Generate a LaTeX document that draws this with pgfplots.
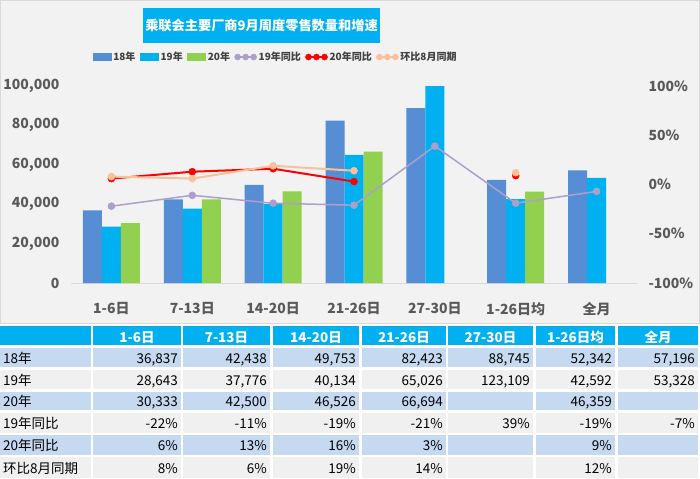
\documentclass[border=0pt]{standalone}
\usepackage{fontspec}
\setmainfont{Noto Sans CJK SC}
\usepackage{pgfplots}
\pgfplotsset{compat=1.18}
\definecolor{chartbg}{HTML}{F2F2F2}
\definecolor{bordergray}{HTML}{D9D9D9}
\definecolor{c18}{HTML}{558ED5}
\definecolor{c19}{HTML}{00B0F0}
\definecolor{c20}{HTML}{92D050}
\definecolor{cpur}{HTML}{AD9FCC}
\definecolor{cred}{HTML}{FF0000}
\definecolor{cpeach}{HTML}{F9C19B}
\definecolor{ticktext}{HTML}{595959}
\definecolor{legtext}{HTML}{404040}
\definecolor{tabblue}{HTML}{C5D9F1}
\definecolor{tabgray}{HTML}{F0F0F0}
\newcommand\tabfont{\fontsize{13.5bp}{15bp}\selectfont}
\newcommand\rcell[3]{%
  \pgfmathsetmacro\xr{{91,181,270,359,446,533,615,698}[#1]}%
  \pgfmathsetmacro\yb{{342,363,385,406,428,450,473}[#2]}%
  \node[anchor=base east,inner sep=0pt,font=\tabfont,text=black] at (\xr bp-3bp,-\yb bp) {#3};}
\newcommand\lcell[2]{%
  \pgfmathsetmacro\yb{{342,363,385,406,428,450,473}[#1]}%
  \node[anchor=base west,inner sep=0pt,font=\tabfont,text=black] at (3bp,-\yb bp) {#2};}
\newcommand\hcell[2]{%
  \pgfmathsetmacro\xm{{45.5,137,226.5,316,404,490.5,575.5,658}[#1]}%
  \node[anchor=base,inner sep=0pt,font=\bfseries\tabfont,text=white] at (\xm bp,-342bp) {#2};}
\begin{document}
\begin{tikzpicture}
% backgrounds
\fill[white] (0,0) rectangle (700bp,-479bp);
\fill[chartbg] (0,0) rectangle (700bp,-324bp);
\draw[bordergray,line width=0.8bp] (0.4bp,-0.4bp) rectangle (699.6bp,-323.6bp);
% title
\fill[c19] (143bp,-8bp) rectangle (380bp,-43bp);
\node[text=white,font=\bfseries\fontsize{13.2bp}{16bp}\selectfont,inner sep=0pt] at (261.5bp,-25.5bp) {乘联会主要厂商9月周度零售数量和增速};
% table cell backgrounds
\foreach \yt/\ybt/\col in {326/345/c19,348/367/tabblue,370/389/tabgray,392/410/tabblue,413/433/tabgray,435/455/tabblue,457/478/tabgray}{
  \foreach \xa/\xb in {0/91,93/181,183/270,273/359,362/446,448/533,536/615,618/698}{
    \fill[\col] (\xa bp,-\yt bp) rectangle (\xb bp,-\ybt bp);
  }
}
% header
\hcell{1}{1-6日}\hcell{2}{7-13日}\hcell{3}{14-20日}\hcell{4}{21-26日}\hcell{5}{27-30日}\hcell{6}{1-26日均}\hcell{7}{全月}
% labels
\lcell{1}{18年}\lcell{2}{19年}\lcell{3}{20年}\lcell{4}{19年同比}\lcell{5}{20年同比}\lcell{6}{环比8月同期}
% 18年
\rcell{1}{1}{36,837}\rcell{2}{1}{42,438}\rcell{3}{1}{49,753}\rcell{4}{1}{82,423}\rcell{5}{1}{88,745}\rcell{6}{1}{52,342}\rcell{7}{1}{57,196}
% 19年
\rcell{1}{2}{28,643}\rcell{2}{2}{37,776}\rcell{3}{2}{40,134}\rcell{4}{2}{65,026}\rcell{5}{2}{123,109}\rcell{6}{2}{42,592}\rcell{7}{2}{53,328}
% 20年
\rcell{1}{3}{30,333}\rcell{2}{3}{42,500}\rcell{3}{3}{46,526}\rcell{4}{3}{66,694}\rcell{6}{3}{46,359}
% 19年同比
\rcell{1}{4}{-22\%}\rcell{2}{4}{-11\%}\rcell{3}{4}{-19\%}\rcell{4}{4}{-21\%}\rcell{5}{4}{39\%}\rcell{6}{4}{-19\%}\rcell{7}{4}{-7\%}
% 20年同比
\rcell{1}{5}{6\%}\rcell{2}{5}{13\%}\rcell{3}{5}{16\%}\rcell{4}{5}{3\%}\rcell{6}{5}{9\%}
% 环比
\rcell{1}{6}{8\%}\rcell{2}{6}{6\%}\rcell{3}{6}{19\%}\rcell{4}{6}{14\%}\rcell{6}{6}{12\%}

% bars axis
\begin{axis}[
  at={(71bp,-283bp)}, anchor=south west,
  scale only axis, width=566bp, height=197bp,
  xmin=-0.5, xmax=6.5, ymin=0, ymax=100000,
  axis x line*=bottom, axis y line*=left,
  y axis line style={draw=none},
  x axis line style={draw=bordergray,line width=1bp},
  major tick length=0pt,
  xtick={0,...,6},
  xticklabels={1-6日,7-13日,14-20日,21-26日,27-30日,1-26日均,全月},
  ytick={0,20000,40000,60000,80000,100000},
  scaled y ticks=false,
  /pgf/number format/.cd, fixed, 1000 sep={,}, assume math mode=true, /pgfplots/.cd,
  tick label style={font=\bfseries\fontsize{14bp}{16bp}\selectfont, text=ticktext},
  yticklabel style={xshift=-8bp},
  xticklabel style={yshift=-16bp},
  ybar, bar width=19bp,
]
\addplot[fill=c18, draw=none, bar shift=-19bp] coordinates {(0,36837) (1,42438) (2,49753) (3,82423) (4,88745) (5,52342) (6,57196)};
\addplot[fill=c19, draw=none, bar shift=0bp] coordinates {(0,28643) (1,37776) (2,40134) (3,65026) (4,123109) (5,42592) (6,53328)};
\addplot[fill=c20, draw=none, bar shift=19bp] coordinates {(0,30333) (1,42500) (2,46526) (3,66694) (5,46359)};
\end{axis}

% percent axis
\begin{axis}[
  at={(71bp,-283bp)}, anchor=south west,
  scale only axis, width=566bp, height=197bp,
  xmin=-0.5, xmax=6.5, ymin=-100, ymax=100,
  hide x axis, axis y line*=right,
  y axis line style={draw=none},
  major tick length=0pt,
  ytick={-100,-50,0,50,100},
  yticklabel={\pgfmathprintnumber{\tick}\%},
  /pgf/number format/assume math mode=true,
  tick label style={font=\bfseries\fontsize{14bp}{16bp}\selectfont, text=ticktext},
  yticklabel style={xshift=8bp},
  unbounded coords=jump,
  legend columns=6,
  legend style={at={(0.3604,1.147)}, anchor=center, draw=none, fill=none,
    font=\bfseries\fontsize{10bp}{12bp}\selectfont, text=legtext,
    nodes={inner sep=0.6bp},
    /tikz/every even column/.append style={column sep=4bp},
    /tikz/every odd column/.append style={column sep=1.5bp}},
  legend cell align=left,
]
\addlegendimage{legend image code/.code={\fill[c18] (0bp,-3.5bp) rectangle (18bp,3.5bp);}}
\addlegendentry{18年}
\addlegendimage{legend image code/.code={\fill[c19] (0bp,-3.5bp) rectangle (18bp,3.5bp);}}
\addlegendentry{19年}
\addlegendimage{legend image code/.code={\fill[c20] (0bp,-3.5bp) rectangle (18bp,3.5bp);}}
\addlegendentry{20年}
\pgfplotsset{every axis plot/.append style={legend image code/.code={\draw[##1,mark size=3bp] plot coordinates {(0bp,0bp) (8bp,0bp) (16bp,0bp)};}}}
\addplot[cpur, line width=1.5bp, mark=*, mark size=3.5bp, mark options={fill=cpur,draw=cpur,line width=0.5bp}] coordinates {(0,-22) (1,-11) (2,-19) (3,-21) (4,39) (5,-19) (6,-7)};
\addlegendentry{19年同比}
\addplot[cred, line width=2bp, mark=*, mark size=3.5bp, mark options={fill=cred,draw=cred,line width=0.5bp}] coordinates {(0,6) (1,13) (2,16) (3,3) (4,nan) (5,9) (6,nan)};
\addlegendentry{20年同比}
\addplot[cpeach, line width=2bp, mark=*, mark size=3.5bp, mark options={fill=cpeach,draw=cpeach,line width=0.5bp}] coordinates {(0,8) (1,6) (2,19) (3,14) (4,nan) (5,12) (6,nan)};
\addlegendentry{环比8月同期}
\end{axis}
\end{tikzpicture}
\end{document}
